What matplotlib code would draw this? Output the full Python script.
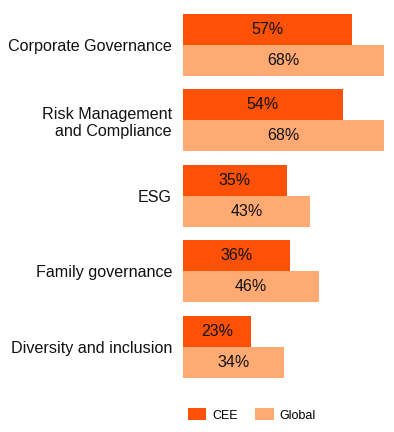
import matplotlib
matplotlib.use("Agg")
import matplotlib.pyplot as plt
from matplotlib.patches import Patch

plt.rcParams['font.family'] = ['Liberation Sans', 'DejaVu Sans']

categories = ["Corporate Governance", "Risk Management\nand Compliance", "ESG",
              "Family governance", "Diversity and inclusion"]
cee = [57, 54, 35, 36, 23]
glob = [68, 68, 43, 46, 34]
series_names = ["CEE", "Global"]
colors = ["#FD5108", "#FFAA72"]

W, H = 394, 432
fig = plt.figure(figsize=(W / 100, H / 100), dpi=100)
left = 183 / W
ax = fig.add_axes([left, 1 - 378 / H, 1 - left, (378 - 14) / H])

h = 31 / 75.5
ys = list(range(len(categories)))
b1 = ax.barh([y - h / 2 for y in ys], cee, height=h, color=colors[0])
b2 = ax.barh([y + h / 2 for y in ys], glob, height=h, color=colors[1])
for bars, vals in ((b1, cee), (b2, glob)):
    for bar, v in zip(bars, vals):
        ax.text(v / 2, bar.get_y() + bar.get_height() / 2, f"{v}%",
                ha="center", va="center", fontsize=11.5, color="#111111")

ax.set_xlim(0, (W - 183) / 2.96)
ax.set_ylim(len(categories) - 1 + h, -h)
ax.set_yticks(ys)
ax.set_yticklabels(categories, fontsize=11.6, color="#111111", ha="right",
                   multialignment="right", linespacing=1.2)
ax.tick_params(axis="y", length=0, pad=8)
ax.set_xticks([])
for s in ax.spines.values():
    s.set_visible(False)

handles = [Patch(facecolor=c, edgecolor="none") for c in colors]
fig.legend(handles, series_names, loc="center left",
           bbox_to_anchor=(188 / W, 1 - 415 / H), ncol=2, frameon=False,
           fontsize=9, handlelength=1.45, handleheight=1.1, handletextpad=0.5,
           columnspacing=1.4, borderaxespad=0, borderpad=0)

fig.savefig("out.png", dpi=100)
